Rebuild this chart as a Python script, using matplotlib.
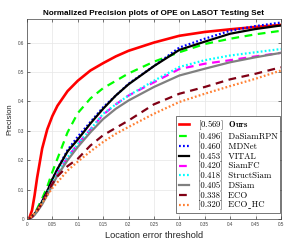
import matplotlib
matplotlib.use("Agg")
import matplotlib.pyplot as plt

# location error thresholds
thr = [0, 0.005, 0.01, 0.015, 0.02, 0.03, 0.04, 0.05, 0.06, 0.08, 0.1,
       0.125, 0.15, 0.175, 0.2, 0.25, 0.3, 0.35, 0.4, 0.45, 0.5]

ours = [0, 0.005, 0.03, 0.08, 0.14, 0.24, 0.305, 0.35, 0.385, 0.435, 0.47,
        0.505, 0.53, 0.553, 0.572, 0.60, 0.623, 0.636, 0.645, 0.653, 0.66]
dasiamrpn = [0, 0.002, 0.01, 0.02, 0.035, 0.07, 0.11, 0.16, 0.205, 0.295, 0.36,
             0.41, 0.445, 0.47, 0.495, 0.535, 0.567, 0.595, 0.613, 0.628, 0.64]
mdnet = [0, 0.002, 0.008, 0.018, 0.03, 0.06, 0.095, 0.135, 0.17, 0.235, 0.28,
         0.33, 0.38, 0.42, 0.46, 0.52, 0.583, 0.613, 0.64, 0.656, 0.668]
vital = [0, 0.002, 0.008, 0.018, 0.03, 0.06, 0.095, 0.135, 0.17, 0.23, 0.27,
         0.325, 0.375, 0.42, 0.458, 0.52, 0.575, 0.603, 0.63, 0.646, 0.658]
siamfc = [0, 0.002, 0.007, 0.015, 0.027, 0.055, 0.087, 0.12, 0.155, 0.21, 0.255,
          0.305, 0.355, 0.39, 0.42, 0.465, 0.51, 0.528, 0.54, 0.553, 0.565]
structsiam = [0, 0.002, 0.007, 0.015, 0.027, 0.055, 0.087, 0.12, 0.155, 0.21, 0.255,
              0.305, 0.358, 0.39, 0.42, 0.47, 0.517, 0.54, 0.556, 0.567, 0.578]
dsiam = [0, 0.002, 0.006, 0.014, 0.025, 0.05, 0.082, 0.115, 0.148, 0.2, 0.245,
         0.295, 0.34, 0.375, 0.403, 0.449, 0.488, 0.511, 0.533, 0.55, 0.565]
eco = [0, 0.002, 0.008, 0.017, 0.028, 0.055, 0.088, 0.12, 0.145, 0.18, 0.205,
       0.25, 0.285, 0.31, 0.335, 0.39, 0.426, 0.449, 0.475, 0.494, 0.516]
eco_hc = [0, 0.003, 0.01, 0.02, 0.03, 0.055, 0.08, 0.105, 0.125, 0.165, 0.195,
          0.23, 0.262, 0.29, 0.313, 0.358, 0.398, 0.426, 0.452, 0.477, 0.505]

# cmr10 has a dot accent where '_' should be, so use a low macron for ECO_HC
labels = [r'[0.569]  $\mathbf{Ours}$',
          '[0.496]  DaSiamRPN',
          '[0.460]  MDNet',
          '[0.453]  VITAL',
          '[0.420]  SiamFC',
          '[0.418]  StructSiam',
          '[0.405]  DSiam',
          '[0.338]  ECO',
          '[0.320]  ECO\u02cdHC']

plt.rcParams['font.family'] = ['Liberation Sans', 'DejaVu Sans']
plt.rcParams['mathtext.fontset'] = 'cm'

fig = plt.figure(figsize=(2.96, 2.47), dpi=100)
ax = fig.add_axes([0.091, 0.113, 0.858, 0.81])

# ---------- curves ----------
series = [ours, dasiamrpn, mdnet, vital, siamfc, structsiam, dsiam, eco, eco_hc]
styles = [
    dict(color=(1, 0, 0), ls='-', lw=1.9),
    dict(color=(0, 1, 0), ls=(0, (3.5, 2.5)), lw=1.6),
    dict(color=(0, 0, 1), ls=(0, (0.8, 1.0)), lw=1.6),
    dict(color='k', ls='-', lw=1.6),
    dict(color=(1, 0, 1), ls=(0, (3.5, 2.5)), lw=1.6),
    dict(color=(0, 1, 1), ls=(0, (0.8, 1.0)), lw=1.6),
    dict(color=(0.5, 0.5, 0.5), ls='-', lw=1.6),
    dict(color=(0.5, 0.0, 0.08), ls=(0, (3.5, 2.5)), lw=1.6),
    dict(color=(1, 0.5, 0.2), ls=(0, (0.8, 1.0)), lw=1.6),
]
for y, st, lab in zip(series, styles, labels):
    ax.plot(thr, y, label=lab, **st)

ax.set_xlim(0, 0.5)
ax.set_ylim(0, 0.68)
ax.set_xticks([0, 0.05, 0.1, 0.15, 0.2, 0.25, 0.3, 0.35, 0.4, 0.45, 0.5])
ax.set_xticklabels(['0', '0.05', '0.1', '0.15', '0.2', '0.25', '0.3',
                    '0.35', '0.4', '0.45', '0.5'])
ax.set_yticks([0, 0.1, 0.2, 0.3, 0.4, 0.5, 0.6])
ax.set_yticklabels(['0', '0.1', '0.2', '0.3', '0.4', '0.5', '0.6'])
ax.tick_params(direction='in', length=2, width=0.5, labelsize=3.3,
               colors='#404040', pad=2, top=True, right=True)
ax.grid(True, color='#e6e6e6', lw=0.5)
ax.set_axisbelow(True)
for s in ax.spines.values():
    s.set_linewidth(0.5)
    s.set_color('#404040')

ax.set_title('Normalized Precision plots of OPE on LaSOT Testing Set',
             fontsize=5.9, fontweight='bold', pad=3)
ax.set_xlabel('Location error threshold', fontsize=6.7, color='#262626', labelpad=3)
ax.set_ylabel('Precision', fontsize=5.5, color='#262626', labelpad=3)

leg = ax.legend(loc='lower right', bbox_to_anchor=(0.997, 0.03), borderaxespad=0,
                prop={'family': ['cmr10', 'DejaVu Sans'], 'size': 6.3},
                handlelength=1.2, handletextpad=1.0, labelspacing=0.05,
                borderpad=0.3, fancybox=False, framealpha=1)
leg.get_frame().set_edgecolor('#404040')
leg.get_frame().set_linewidth(0.5)

fig.savefig('out.png', dpi=100)
